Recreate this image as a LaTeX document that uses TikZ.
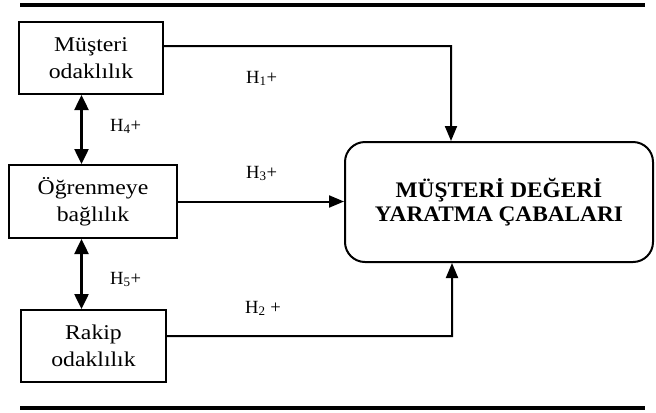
\documentclass[tikz,border=0pt]{standalone}
\usepackage{fontspec}
\setmainfont{Liberation Serif}
\newfontfamily\boxfont[FakeStretch=1.13]{Liberation Serif}
\newfontfamily\bigfont[FakeStretch=1.05]{Liberation Serif Bold}
\usetikzlibrary{arrows.meta,calc}
\begin{document}
\begin{tikzpicture}[x=1bp,y=-1bp,
  factor/.style={draw,line width=2bp,minimum width=#1,align=center,inner sep=0pt,
    font=\boxfont\fontsize{21bp}{27bp}\selectfont},
  outcome/.style={draw,line width=2bp,rounded corners=20bp,inner sep=0pt,align=center,
    font=\bigfont\fontsize{22.2bp}{24bp}\selectfont},
  hyp/.style={anchor=base west,inner sep=0pt,font=\fontsize{18.6bp}{22bp}\selectfont},
  link/.style={line width=2bp,-{Triangle[length=15bp,width=12bp]}},
  corr/.style={line width=2.5bp,{Triangle[length=15bp,width=14bp]}-{Triangle[length=15bp,width=14bp]}},
  rule/.style={line width=4bp}]
\useasboundingbox (0,0) rectangle (656,412);

% top and bottom rules
\coordinate (tl) at (20,5);
\coordinate (tr) at (645,5);
\coordinate (bl) at (20,408);
\coordinate (br) at (645,408);
\draw[rule] (tl) -- (tr);
\draw[rule] (bl) -- (br);

% the three antecedent factors
\node[factor, minimum width=144bp, minimum height=72bp] (b1) at (91,58) {Müşteri\\odaklılık};
\node[factor, minimum width=168bp, minimum height=73bp] (b2) at (93,201.5) {Öğrenmeye\\bağlılık};
\node[factor, minimum width=145bp, minimum height=72bp] (b3) at (93.5,346) {Rakip\\odaklılık};

% outcome
\node[outcome, minimum width=308bp, minimum height=120bp] (big) at (499,202)
  {MÜŞTERİ DEĞERİ\\YARATMA ÇABALARI};

% paths into the outcome
\coordinate (k1) at (451,46);
\coordinate (k3) at (452,336);
\draw[link] ([yshift=12bp]b1.east) -- (k1) -- (k1 |- big.north);
\draw[link] (b2.east) -- (b2.east -| big.west);
\draw[link] ([yshift=10bp]b3.east) -- (k3) -- (k3 |- big.south);

% correlations between the factors
\coordinate (c1) at (81.5,94);
\coordinate (c2) at (81.5,165);
\coordinate (c3) at (81.5,238);
\coordinate (c4) at (81.5,310);
\draw[corr] (c1 |- b1.south) -- (c2 |- b2.north);
\draw[corr] (c3 |- b2.south) -- (c4 |- b3.north);

% hypothesis labels
\node[hyp] (h1) at (246,83) {H\textsubscript{1}+};
\node[hyp] (h4) at (110,131) {H\textsubscript{4}+};
\node[hyp] (h3) at (246,178) {H\textsubscript{3}+};
\node[hyp] (h5) at (110,284) {H\textsubscript{5}+};
\node[hyp] (h2) at (245,313) {H\textsubscript{2} +};
\end{tikzpicture}
\end{document}
